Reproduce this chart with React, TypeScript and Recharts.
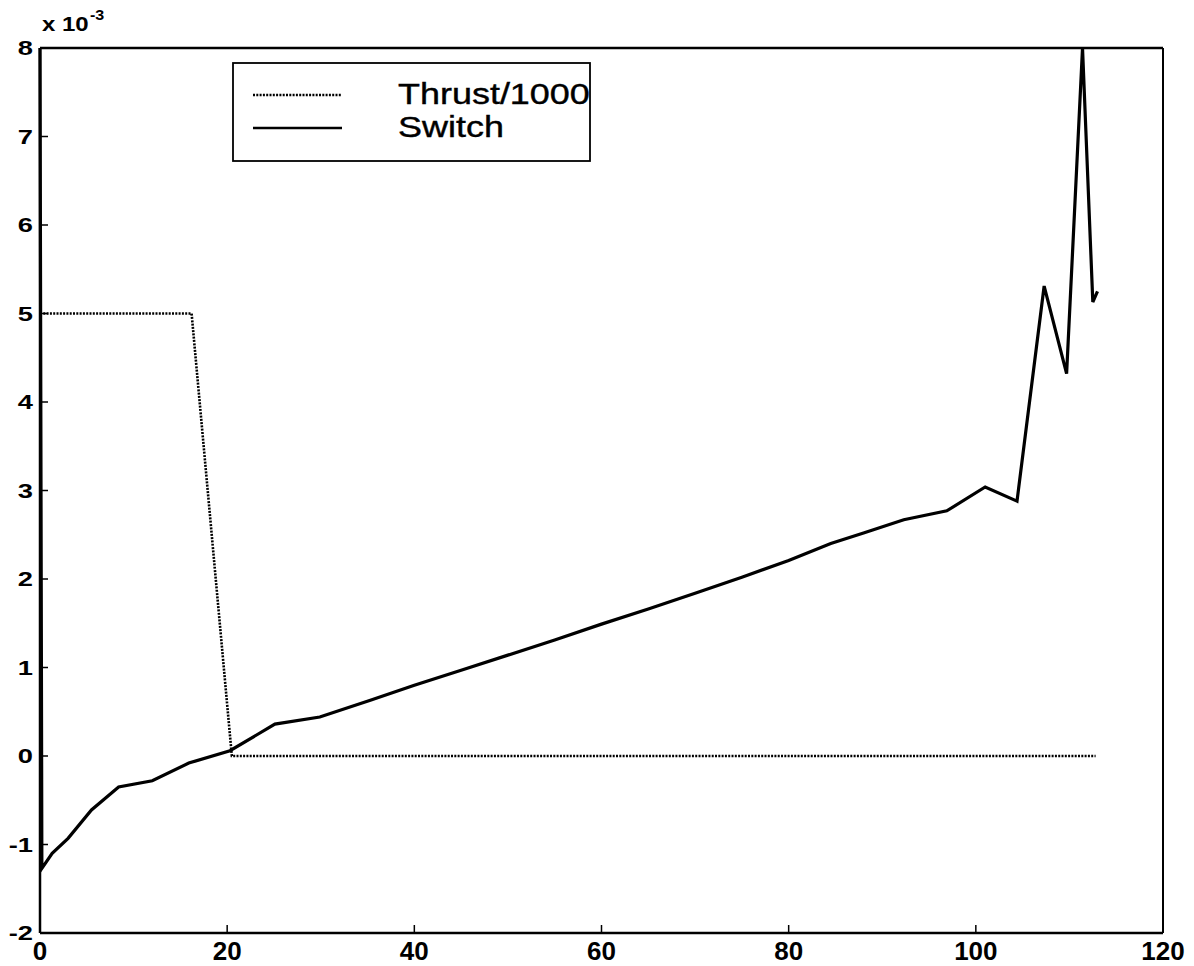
import { LineChart, Line, XAxis, YAxis, Legend } from 'recharts'

// time axis and values (scaled by 10^-3)
const thrustX = [0, 16.2, 20.5, 112.8]
const thrustY = [5, 5, 0, 0]

const switchX = [
    0, 0.2, 1.3, 3.0, 5.5, 8.4, 12.0, 15.9, 20.3, 25.1, 29.9, 35.3, 40, 45, 50, 55,
    60, 65, 70, 75, 80, 84.5, 88, 92.3, 96.9, 101, 104.4, 107.3, 109.7, 111.4, 112.5, 113,
]
const switchY = [
    8, -1.27, -1.1, -0.93, -0.61, -0.35, -0.28, -0.08, 0.06, 0.36, 0.44, 0.63, 0.8, 0.97, 1.14, 1.31,
    1.49, 1.66, 1.84, 2.02, 2.21, 2.4, 2.52, 2.67, 2.77, 3.04, 2.88, 5.31, 4.32, 8.0, 5.13, 5.25,
]

const xTicks = [0, 20, 40, 60, 80, 100, 120]
const yTicks = [-2, -1, 0, 1, 2, 3, 4, 5, 6, 7, 8]
const legendOrder = ['Thrust/1000', 'Switch']

const thrustData = thrustX.map((x, i) => ({ x, y: thrustY[i] }))
const switchData = switchX.map((x, i) => ({ x, y: switchY[i] }))

const FONT = '"Liberation Sans", Arial, Helvetica, sans-serif'
const TICK = 8

const BottomTick = ({ x, y, payload }: any) => (
    <g>
        <line x1={x} x2={x} y1={y} y2={y - TICK} stroke="#000" strokeWidth={1.5} />
        <text x={x} y={y + 27} textAnchor="middle" fontSize={26} fontWeight="bold" fontFamily={FONT} fill="#000">
            {payload.value}
        </text>
    </g>
)

const LeftTick = ({ x, y, payload }: any) => (
    <g>
        <line x1={x} x2={x + TICK} y1={y} y2={y} stroke="#000" strokeWidth={1.5} />
        <text
            transform={`translate(${x - 7},${y + 7}) scale(1.3,1)`}
            textAnchor="end"
            fontSize={21}
            fontWeight="bold"
            fontFamily={FONT}
            fill="#000"
        >
            {payload.value}
        </text>
    </g>
)

const TopTick = ({ x, y }: any) => (
    <line x1={x} x2={x} y1={y} y2={y + TICK} stroke="#000" strokeWidth={1.5} />
)

const RightTick = ({ x, y }: any) => (
    <line x1={x} x2={x - TICK} y1={y} y2={y} stroke="#000" strokeWidth={1.5} />
)

const ExponentLabel = ({ viewBox }: any) => (
    <g fontFamily={FONT} fill="#000" fontWeight="bold">
        <text transform={`translate(${viewBox.x + 3},${viewBox.y - 17}) scale(1.2,1)`} fontSize={20}>
            x 10
        </text>
        <text transform={`translate(${viewBox.x + 51},${viewBox.y - 28}) scale(1.15,1)`} fontSize={14}>
            -3
        </text>
    </g>
)

const LegendBox = ({ payload }: any) => {
    const items = [...(payload || [])].sort(
        (a: any, b: any) => legendOrder.indexOf(a.value) - legendOrder.indexOf(b.value),
    )
    return (
        <svg width={362} height={102}>
            <rect x={1} y={1} width={357} height={98} fill="#fff" stroke="#000" strokeWidth={1.8} />
            {items.map((entry: any, i: number) => {
                const dotted = entry.value === 'Thrust/1000'
                return (
                    <g key={entry.value}>
                        <line
                            x1={21}
                            x2={110}
                            y1={33 + i * 33}
                            y2={33 + i * 33}
                            stroke="#000"
                            strokeWidth={dotted ? 2.4 : 2.5}
                            strokeDasharray={dotted ? '2 1.3' : undefined}
                        />
                        <text
                            transform={`translate(166,${42 + i * 33}) scale(1.24,1)`}
                            fontSize={29}
                            fontFamily={FONT}
                            fill="#000"
                            stroke="#000"
                            strokeWidth={0.4}
                        >
                            {entry.value}
                        </text>
                    </g>
                )
            })}
        </svg>
    )
}

export default function App() {
    return (
        <div style={{ width: 1186, height: 958, background: '#fff' }}>
            <LineChart width={1186} height={958} margin={{ top: 39, right: 30, left: 31, bottom: 32 }}>
                <XAxis
                    xAxisId="bottom"
                    dataKey="x"
                    type="number"
                    domain={[0, 120]}
                    ticks={xTicks}
                    height={1}
                    tickSize={0}
                    tickMargin={0}
                    tick={<BottomTick />}
                    tickLine={false}
                    axisLine={{ stroke: '#000', strokeWidth: 2.5 }}
                />
                <XAxis
                    xAxisId="top"
                    orientation="top"
                    type="number"
                    domain={[0, 120]}
                    ticks={xTicks}
                    height={1}
                    tickSize={0}
                    tickMargin={0}
                    tick={<TopTick />}
                    tickLine={false}
                    axisLine={{ stroke: '#000', strokeWidth: 2.5 }}
                />
                <YAxis
                    yAxisId="left"
                    type="number"
                    domain={[-2, 8]}
                    ticks={yTicks}
                    width={1}
                    tickSize={0}
                    tickMargin={0}
                    tick={<LeftTick />}
                    tickLine={false}
                    axisLine={{ stroke: '#000', strokeWidth: 2.5 }}
                    label={<ExponentLabel />}
                />
                <YAxis
                    yAxisId="right"
                    orientation="right"
                    type="number"
                    domain={[-2, 8]}
                    ticks={yTicks}
                    width={1}
                    tickSize={0}
                    tickMargin={0}
                    tick={<RightTick />}
                    tickLine={false}
                    axisLine={{ stroke: '#000', strokeWidth: 2 }}
                />
                <Legend
                    layout="horizontal"
                    verticalAlign="middle"
                    content={<LegendBox />}
                    wrapperStyle={{ left: 224, top: 54, width: 362, height: 102 }}
                />
                <Line
                    xAxisId="bottom"
                    yAxisId="left"
                    data={thrustData}
                    dataKey="y"
                    name="Thrust/1000"
                    stroke="#000"
                    strokeWidth={2.6}
                    strokeDasharray="2 1.3"
                    dot={false}
                    activeDot={false}
                    isAnimationActive={false}
                />
                <Line
                    xAxisId="bottom"
                    yAxisId="left"
                    data={switchData}
                    dataKey="y"
                    name="Switch"
                    stroke="#000"
                    strokeWidth={3.2}
                    dot={false}
                    activeDot={false}
                    isAnimationActive={false}
                />
            </LineChart>
        </div>
    )
}
